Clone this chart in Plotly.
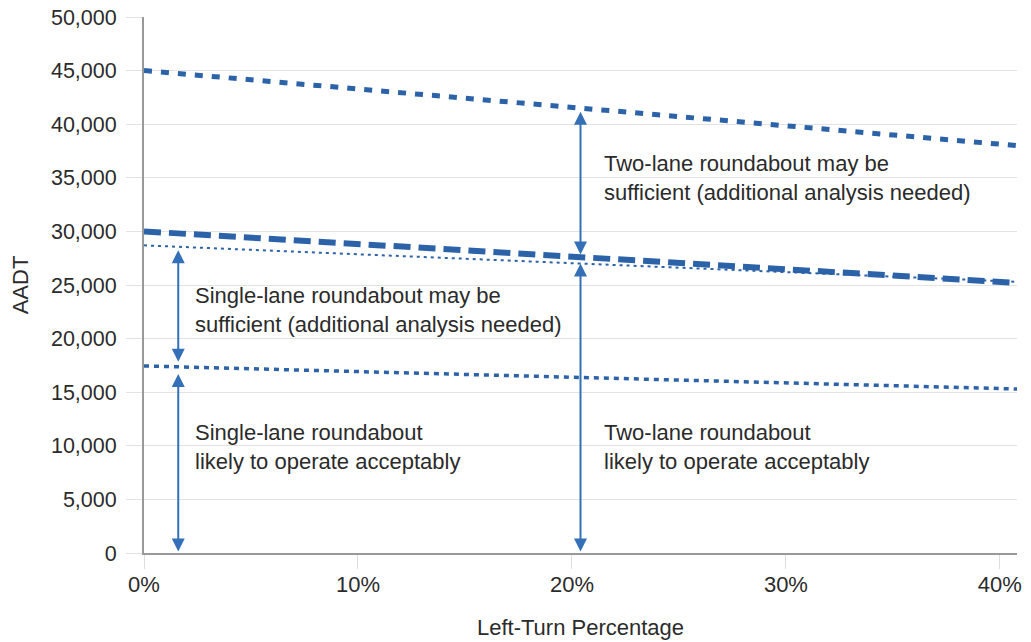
import plotly.graph_objects as go

# ---- data ----
x_ends = [0, 40.8]                      # left-turn percentage at line ends
two_lane_upper = [45000, 38000]         # two-lane upper threshold (thick dots)
single_lane_upper = [30000, 25200]      # single-lane upper threshold (thick dashes)
two_lane_lower = [28700, 25300]         # two-lane lower threshold (thin dots)
single_lane_lower = [17450, 15300]      # single-lane lower threshold (medium dots)

y_ticks = [0, 5000, 10000, 15000, 20000, 25000, 30000, 35000, 40000, 45000, 50000]
x_ticks = [0, 10, 20, 30, 40]

# arrows: (x, y_start, y_end)
arrows = [
    (1.6, 0, 16700),
    (1.6, 17700, 28250),
    (20.4, 0, 27000),
    (20.4, 27700, 41150),
]

labels = [
    (21.4, 35000, "Two-lane roundabout may be<br>sufficient (additional analysis needed)"),
    (2.3, 22650, "Single-lane roundabout may be<br>sufficient (additional analysis needed)"),
    (2.3, 9850, "Single-lane roundabout<br>likely to operate acceptably"),
    (21.4, 9850, "Two-lane roundabout<br>likely to operate acceptably"),
]

LINE = "#2B62A8"
ARROW = "#3470B7"
TEXT = "#2b2b2b"
FONT = "Liberation Sans, Arial, sans-serif"

fig = go.Figure()
fig.add_trace(go.Scatter(x=x_ends, y=two_lane_upper, mode="lines",
                         line=dict(color=LINE, width=5, dash="8px,9px"), hoverinfo="skip"))
fig.add_trace(go.Scatter(x=x_ends, y=two_lane_lower, mode="lines",
                         line=dict(color=LINE, width=2, dash="3px,4px"), hoverinfo="skip"))
fig.add_trace(go.Scatter(x=x_ends, y=single_lane_upper, mode="lines",
                         line=dict(color=LINE, width=6, dash="17px,8px"), hoverinfo="skip"))
fig.add_trace(go.Scatter(x=x_ends, y=single_lane_lower, mode="lines",
                         line=dict(color=LINE, width=3.5, dash="5px,5px"), hoverinfo="skip"))

for ax_, y0, y1 in arrows:
    fig.add_annotation(x=ax_, y=y1, ax=ax_, ay=y0, xref="x", yref="y", axref="x", ayref="y",
                       text="", showarrow=True, arrowhead=2, arrowside="end+start",
                       arrowsize=1.3, arrowwidth=2, arrowcolor=ARROW, standoff=0, startstandoff=0)

for lx, ly, t in labels:
    fig.add_annotation(x=lx, y=ly, xref="x", yref="y", text=t, showarrow=False,
                       xanchor="left", yanchor="middle", align="left",
                       font=dict(family=FONT, size=22, color=TEXT))

fig.update_layout(
    width=1023, height=634,
    margin=dict(l=136, r=14, t=9, b=89),
    paper_bgcolor="white", plot_bgcolor="white",
    showlegend=False,
    font=dict(family=FONT, size=22, color=TEXT),
)
fig.update_xaxes(
    range=[0, 40.8], tickvals=x_ticks, ticktext=[f"{v}%" for v in x_ticks],
    automargin=False,
    showgrid=False, zeroline=False,
    showline=True, linecolor="#999999", linewidth=2,
    ticks="outside", ticklen=14, tickcolor="#dddddd", tickwidth=1,
    ticklabelstandoff=-3, ticklabeloverflow="allow",
    tickfont=dict(family=FONT, size=22, color=TEXT),
    title=dict(text="Left-Turn Percentage", standoff=23, font=dict(family=FONT, size=22, color=TEXT)),
)
fig.update_yaxes(
    range=[0, 50000], tickvals=y_ticks, tickformat=",d",
    automargin=False,
    showgrid=True, gridcolor="#e3e3e3", gridwidth=1,
    zeroline=False,
    showline=True, linecolor="#999999", linewidth=2,
    ticks="outside", ticklen=16, tickcolor="#e3e3e3", tickwidth=1,
    ticklabelstandoff=5, ticklabeloverflow="allow",
    tickfont=dict(family=FONT, size=21.5, color=TEXT),
    title=dict(text="AADT", standoff=17, font=dict(family=FONT, size=22, color=TEXT)),
)

fig.write_html("out.html")
